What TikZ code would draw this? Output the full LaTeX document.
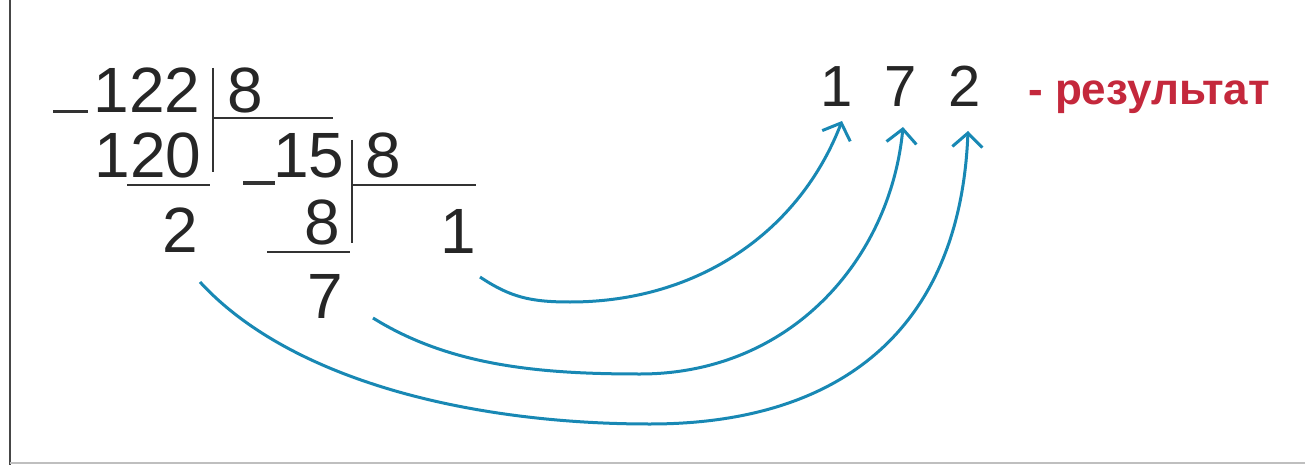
\documentclass[tikz,border=0pt]{standalone}
\usepackage{fontspec}
\setmainfont{Liberation Sans}
\usetikzlibrary{arrows.meta}
\definecolor{arrowblue}{RGB}{24,136,180}
\definecolor{resred}{RGB}{196,40,60}
\definecolor{framegray}{RGB}{70,70,70}
\begin{document}
\begin{tikzpicture}[x=1pt,y=-1pt,
  dig/.style={inner sep=0pt,anchor=base,font=\fontsize{64}{64}\selectfont,text=black!85},
  res/.style={inner sep=0pt,anchor=base,font=\fontsize{58}{58}\selectfont,text=black!85},
  rule/.style={line width=2.6pt,black!80},
  minus/.style={line width=3pt,black!80},
  carry/.style={line width=3pt,arrowblue,-{Straight Barb[length=14pt,width=30pt,line width=3pt]}}]
\useasboundingbox (0,0) rectangle (1305,465);
\fill[white] (0,0) rectangle (1305,465);
\draw[line width=2pt,framegray] (10,0) -- (10,465);
\draw[line width=2pt,black!25] (10,463) -- (1305,463);
% first division
\node[dig] (n122) at (147,113) {122};
\node[dig] (d1) at (245,113) {8};
\node[dig] (n120) at (148,178) {120};
\node[dig] (r2) at (180,252) {2};
\draw[minus] (53,112) -- (88,112);
\draw[rule] (213,68) -- (213,172);
\draw[rule] (213,118) -- (333,118);
\draw[rule] (127,185) -- (210,185);
% second division
\node[dig] (n15) at (309,178) {15};
\node[dig] (d2) at (383,178) {8};
\node[dig] (s8) at (322,244) {8};
\node[dig] (q1) at (458,253) {1};
\node[dig] (r7) at (325,318) {7};
\draw[minus] (243,183) -- (275,183);
\draw[rule] (352,140) -- (352,243);
\draw[rule] (352,185) -- (476,185);
\draw[rule] (267,252) -- (350,252);
% result
\node[res] (o1) at (837,107) {1};
\node[res] (o7) at (901,107) {7};
\node[res] (o2) at (965,107) {2};
\node[inner sep=0pt,anchor=base west,font=\fontsize{44}{44}\selectfont\bfseries,text=resred] (lab) at (1028,105) {- результат};
% arrows
\coordinate (a1) at (480,277);
\coordinate (a2) at (373,318);
\coordinate (a3) at (200,282);
\coordinate (t1) at (842,121);
\coordinate (t2) at (903,127);
\coordinate (t3) at (968,131);
\draw[carry] (a1) .. controls (510,297) and (530,302) .. (570,302)
  .. controls (700,302) and (800,230) .. (t1);
\draw[carry] (a2) .. controls (450,366) and (540,374) .. (640,374)
  .. controls (790,374) and (890,260) .. (t2);
\draw[carry] (a3) .. controls (290,380) and (470,424) .. (650,424)
  .. controls (840,424) and (960,330) .. (t3);
\end{tikzpicture}
\end{document}
